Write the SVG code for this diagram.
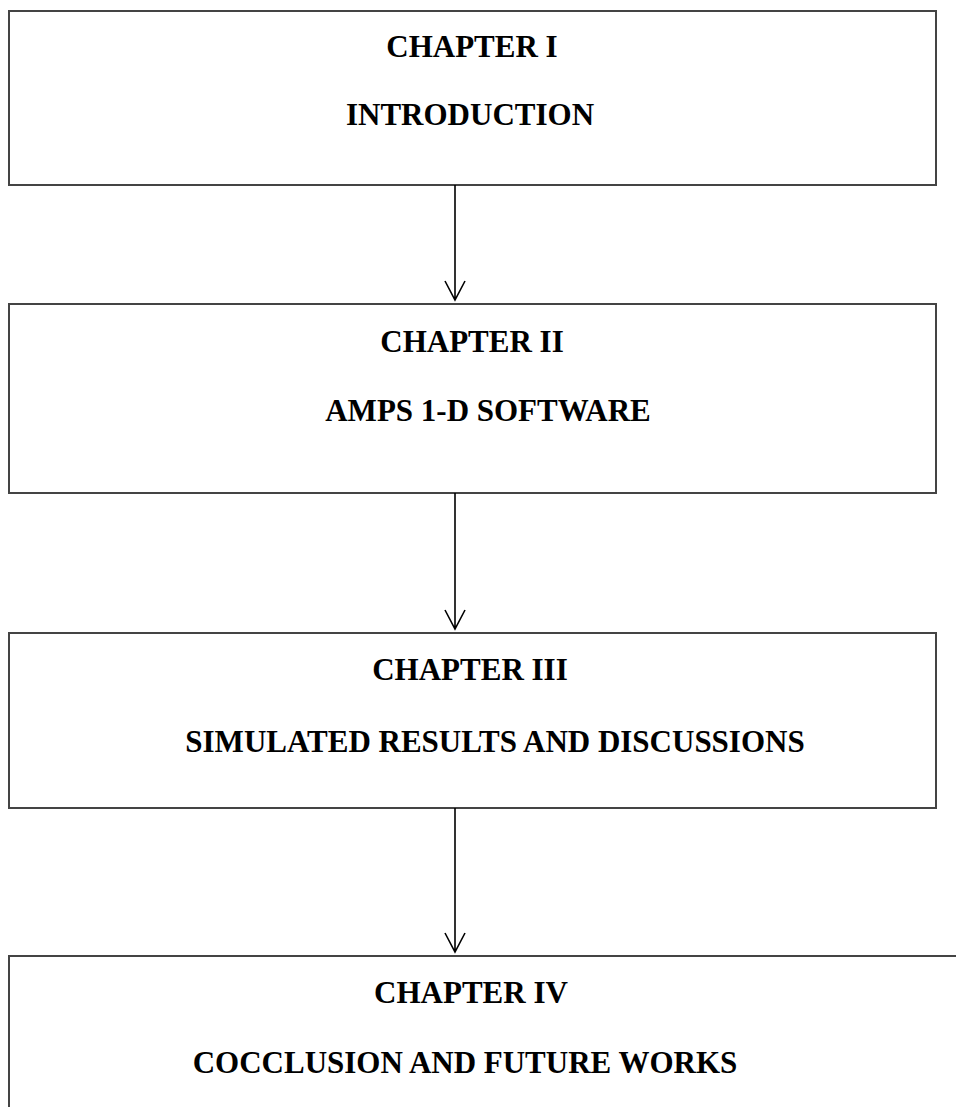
<svg xmlns="http://www.w3.org/2000/svg" width="956" height="1107" viewBox="0 0 956 1107">
<defs>
<style>
.box{fill:#fff;stroke:#444;stroke-width:2}
.t{font-family:"Liberation Serif","Times New Roman",serif;font-weight:bold;font-size:31px;fill:#000;text-anchor:middle}
.conn{stroke:#000;stroke-width:1.6;fill:none}
</style>
</defs>
<rect width="956" height="1107" fill="#fff"/>
<g id="n1">
<rect class="box" x="9" y="11" width="927" height="174"/>
<text class="t" x="472" y="57">CHAPTER I</text>
<text class="t" x="470" y="125">INTRODUCTION</text>
</g>
<g id="n2">
<rect class="box" x="9" y="304" width="927" height="189"/>
<text class="t" x="472" y="352">CHAPTER II</text>
<text class="t" x="488" y="421">AMPS 1-D SOFTWARE</text>
</g>
<g id="n3">
<rect class="box" x="9" y="633" width="927" height="175"/>
<text class="t" x="470" y="680">CHAPTER III</text>
<text class="t" x="495" y="752">SIMULATED RESULTS AND DISCUSSIONS</text>
</g>
<g id="n4">
<rect class="box" x="9" y="956" width="960" height="170"/>
<text class="t" x="471" y="1003">CHAPTER IV</text>
<text class="t" x="465" y="1073">COCCLUSION AND FUTURE WORKS</text>
</g>
<g id="connectors">
<path class="conn" d="M455 185V300M445 281L455 300L465 281"/>
<path class="conn" d="M455 493V629M445 610L455 629L465 610"/>
<path class="conn" d="M455 808V952M445 933L455 952L465 933"/>
</g>
</svg>
